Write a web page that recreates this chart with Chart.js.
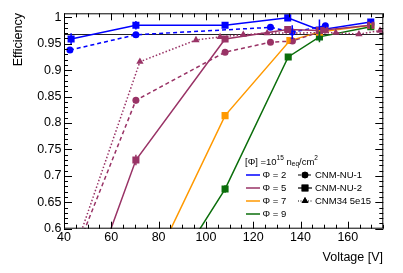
<!DOCTYPE html>
<html>
<head>
<meta charset="utf-8">
<script src="https://cdn.jsdelivr.net/npm/chart.js@4"></script>
<style>
  body { margin: 0; background: #fff; }
</style>
</head>
<body>
<canvas id="myChart" width="403" height="273"></canvas>
<script>
// values
let v_p2_nu1 = [42.5, 70.4, 127.3, 136.5, 150.5];
let e_p2_nu1 = [0.938, 0.967, 0.981, 0.972, 0.984];
let err_p2_nu1 = [0.004, 0.004, 0.003, 0.013, 0.004];

let v_p2_nu2 = [43, 70.4, 108.1, 134.6, 148, 169.7];
let e_p2_nu2 = [0.959, 0.985, 0.985, 0.999, 0.976, 0.991];
let err_p2_nu2 = [0.011, 0.008, 0.004, 0.004, 0.02, 0.004];

let v_p5_nu1 = [44, 70.4, 108.1, 127.3, 136.6, 150.5];
let e_p5_nu1 = [0.545, 0.843, 0.934, 0.953, 0.955, 0.976];
let err_p5_nu1 = [0, 0.006, 0.003, 0.003, 0.003, 0.003];

let v_p5_nu2 = [55, 70.4, 108.1, 134.6, 148, 169.7];
let e_p5_nu2 = [0.54, 0.73, 0.959, 0.977, 0.975, 0.985];
let err_p5_nu2 = [0, 0.01, 0.004, 0.004, 0.004, 0.004];

let v_p5_cnm34 = [44, 72.1, 95.8, 106, 115.8, 125.9, 154.9, 164.7, 173.6];
let e_p5_cnm34 = [0.552, 0.916, 0.957, 0.963, 0.967, 0.97, 0.971, 0.968, 0.975];
let err_p5_cnm34 = [0, 0, 0, 0, 0, 0, 0, 0, 0];

let v_p7_nu2 = [70, 108.1, 135.5, 148, 169.7];
let e_p7_nu2 = [0.458, 0.814, 0.956, 0.972, 0.985];
let err_p7_nu2 = [0, 0.005, 0.004, 0.004, 0.004];

let v_p9_nu2 = [70, 108.1, 134.8, 148, 169.7];
let e_p9_nu2 = [0.405, 0.675, 0.925, 0.963, 0.982];
let err_p9_nu2 = [0, 0.007, 0.005, 0.01, 0.004];

let refEff = 0.968;

let xTicks = [40, 60, 80, 100, 120, 140, 160];
let yTicks = [0.6, 0.65, 0.7, 0.75, 0.8, 0.85, 0.9, 0.95, 1];

let blue = "#0000ff";
let purple = "#993366";
let orange = "#ff9900";
let green = "#0b6e0b";

function pts(vs, es) {
  return vs.map((v, i) => ({ x: v, y: es[i] }));
}

function series(vs, es, errs, color, style, dash, radius) {
  return {
    data: pts(vs, es),
    errs: errs,
    borderColor: color,
    backgroundColor: color,
    pointStyle: style,
    pointRadius: radius,
    pointBorderWidth: 0,
    borderWidth: 1.5,
    borderDash: dash,
    showLine: true,
    tension: 0,
    clip: { left: 0, top: 6, right: 6, bottom: 0 },
  };
}

let datasets = [
  series(v_p5_cnm34, e_p5_cnm34, err_p5_cnm34, purple, "triangle", [1.5, 2], 4.2),
  series(v_p5_nu1, e_p5_nu1, err_p5_nu1, purple, "circle", [4, 3], 3.5),
  series(v_p5_nu2, e_p5_nu2, err_p5_nu2, purple, "rect", [], 5),
  series(v_p2_nu1, e_p2_nu1, err_p2_nu1, blue, "circle", [4, 3], 3.5),
  series(v_p2_nu2, e_p2_nu2, err_p2_nu2, blue, "rect", [], 5),
  series(v_p7_nu2, e_p7_nu2, err_p7_nu2, orange, "rect", [], 5),
  series(v_p9_nu2, e_p9_nu2, err_p9_nu2, green, "rect", [], 5),
];

// error bars, reference line, frame with ROOT style ticks, legend, titles
let rootStyle = {
  id: "rootStyle",
  beforeDatasetsDraw(chart) {
    let c = chart.ctx, a = chart.chartArea;
    let y = chart.scales.y;
    c.save();
    c.strokeStyle = "#222";
    c.lineWidth = 1;
    let py = Math.round(y.getPixelForValue(refEff)) + 0.5;
    c.beginPath();
    c.moveTo(a.left, py);
    c.lineTo(a.right, py);
    c.stroke();
    c.restore();
  },
  afterDatasetsDraw(chart) {
    let c = chart.ctx, a = chart.chartArea;
    let xs = chart.scales.x, ys = chart.scales.y;
    c.save();
    c.beginPath();
    c.rect(a.left, a.top, a.right - a.left, a.bottom - a.top);
    c.clip();
    chart.data.datasets.forEach((ds) => {
      c.strokeStyle = ds.borderColor;
      c.lineWidth = 1.5;
      ds.data.forEach((p, i) => {
        let e = ds.errs[i];
        if (!e) return;
        let px = xs.getPixelForValue(p.x);
        c.beginPath();
        c.moveTo(px, ys.getPixelForValue(p.y - e));
        c.lineTo(px, ys.getPixelForValue(p.y + e));
        c.stroke();
      });
    });
    c.restore();

    // frame and ticks
    c.save();
    c.strokeStyle = "#000";
    c.lineWidth = 1;
    c.strokeRect(a.left + 0.5, a.top + 0.5, a.right - a.left - 1, a.bottom - a.top - 1);
    c.beginPath();
    for (let v = 40; v <= 175; v += 5) {
      let px = Math.round(xs.getPixelForValue(v)) + 0.5;
      let len = v % 20 === 0 ? 7 : 4;
      c.moveTo(px, a.bottom);
      c.lineTo(px, a.bottom - len);
      c.moveTo(px, a.top);
      c.lineTo(px, a.top + len);
    }
    for (let k = 60; k <= 100; k += 1) {
      let py = Math.round(ys.getPixelForValue(k / 100)) + 0.5;
      let len = k % 5 === 0 ? 8 : 4;
      c.moveTo(a.left, py);
      c.lineTo(a.left + len, py);
      c.moveTo(a.right, py);
      c.lineTo(a.right - len, py);
    }
    c.stroke();
    c.restore();
  },
  afterDraw(chart) {
    let c = chart.ctx;
    c.save();
    c.fillStyle = "#000";
    // axis titles
    c.font = "12.5px 'Liberation Sans', Arial, sans-serif";
    c.textAlign = "right";
    c.textBaseline = "middle";
    c.fillText("Voltage [V]", 383, 258);
    c.save();
    c.translate(18.5, 13);
    c.rotate(-Math.PI / 2);
    c.textAlign = "right";
    c.fillText("Efficiency", 0, 0);
    c.restore();

    // legend title
    let f = "'Liberation Sans', Arial, sans-serif";
    let x = 245, y = 162;
    c.textAlign = "left";
    c.textBaseline = "middle";
    let parts = [
      ["[\u03A6] =10", 9.5, 0],
      ["15", 6.5, -3.5],
      [" n", 9.5, 0],
      ["eq", 6.5, 2.5],
      ["/cm", 9.5, 0],
      ["2", 6.5, -3.5],
    ];
    parts.forEach((p) => {
      c.font = p[1] + "px " + f;
      c.fillText(p[0], x, y + p[2]);
      x += c.measureText(p[0]).width;
    });

    // legend entries
    c.font = "9.5px " + f;
    let rows = [175, 188, 201, 214];
    let phis = [["\u03A6 = 2", blue], ["\u03A6 = 5", purple], ["\u03A6 = 7", orange], ["\u03A6 = 9", green]];
    phis.forEach((p, i) => {
      c.strokeStyle = p[1];
      c.lineWidth = 1.5;
      c.beginPath();
      c.moveTo(246, rows[i]);
      c.lineTo(260, rows[i]);
      c.stroke();
      c.fillStyle = "#000";
      c.fillText(p[0], 262.5, rows[i]);
    });
    let samples = [["CNM-NU-1", "circle", [3, 2], 3.3], ["CNM-NU-2", "rect", [], 4.8], ["CNM34 5e15", "triangle", [1, 1.5], 4]];
    samples.forEach((s, i) => {
      c.strokeStyle = "#000";
      c.lineWidth = 1.2;
      c.setLineDash(s[2]);
      c.beginPath();
      c.moveTo(298, rows[i]);
      c.lineTo(312, rows[i]);
      c.stroke();
      c.setLineDash([]);
      c.fillStyle = "#000";
      Chart.helpers.drawPoint(c, { pointStyle: s[1], radius: s[3], borderWidth: 0 }, 305, rows[i]);
      c.fill();
      c.fillText(s[0], 315, rows[i]);
    });
    c.restore();
  },
};

var ctx = document.getElementById("myChart").getContext("2d");
var myChart = new Chart(ctx, {
  type: "line",
  data: { datasets: datasets },
  plugins: [rootStyle],
  options: {
    responsive: false,
    animation: false,
    devicePixelRatio: 1,
    layout: { padding: { top: 13.3, right: 19.7, left: 0, bottom: 0 } },
    plugins: { legend: { display: false }, tooltip: { enabled: false } },
    scales: {
      x: {
        type: "linear",
        min: 40,
        max: 175,
        afterFit: (s) => { s.height = 44.3; },
        afterBuildTicks: (s) => { s.ticks = xTicks.map((v) => ({ value: v })); },
        grid: { display: false, drawTicks: false },
        border: { display: false },
        ticks: {
          padding: 1,
          color: "#000",
          maxRotation: 0,
          autoSkip: false,
          font: { family: "'Liberation Sans', Arial, sans-serif", size: 12.5 },
          callback: (v) => String(v),
        },
      },
      y: {
        min: 0.6,
        max: 1.0076,
        afterFit: (s) => { s.width = 64; },
        afterBuildTicks: (s) => { s.ticks = yTicks.map((v) => ({ value: v })); },
        grid: { display: false, drawTicks: false },
        border: { display: false },
        ticks: {
          padding: 2.5,
          color: "#000",
          autoSkip: false,
          font: { family: "'Liberation Sans', Arial, sans-serif", size: 12.5 },
          callback: (v) => String(+v.toFixed(2)),
        },
      },
    },
  },
});
</script>
</body>
</html>
